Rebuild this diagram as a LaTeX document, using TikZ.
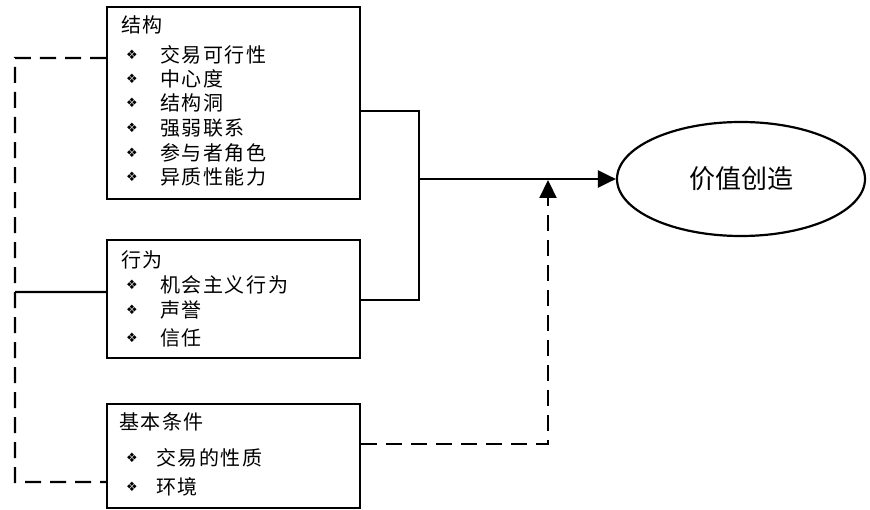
\documentclass[tikz,border=0pt]{standalone}
\usepackage{fontspec}
\newfontfamily\cjk[LetterSpace=8]{Noto Sans CJK SC}
\newfontfamily\cjkb{Noto Sans CJK SC}
\newfontfamily\symf{DejaVu Sans}
\usetikzlibrary{shapes.geometric,arrows.meta}
\begin{document}
\begin{tikzpicture}[x=1bp,y=-1bp,
  box/.style={draw, line width=2.2bp, minimum width=253bp, anchor=north west, inner sep=0pt},
  ttl/.style={anchor=west, inner sep=0pt, font=\cjk\fontsize{20bp}{22bp}\selectfont},
  itm/.style={anchor=west, inner sep=0pt, font=\cjk\fontsize{20bp}{22bp}\selectfont},
  bul/.style={inner sep=0pt, font=\symf\fontsize{13bp}{15bp}\selectfont},
  conn/.style={line width=2.2bp},
  dconn/.style={line width=2.2bp, dash pattern=on 16bp off 9bp},
  tip/.style={-{Triangle[length=18bp,width=17bp]}}
]
\useasboundingbox (0,0) rectangle (870,510);

% boxes
\node[box, minimum height=192bp] (b1) at (106,6) {};
\node[box, minimum height=118bp] (b2) at (106,239) {};
\node[box, minimum height=104bp] (b3) at (106,403) {};

% ellipse
\node[ellipse, draw, line width=2.2bp, minimum width=248bp, minimum height=114bp,
      font=\cjkb\fontsize{26bp}{30bp}\selectfont] (v) at (741,179) {价值创造};

% box 1 text
\node[ttl] (t1) at (121,25) {结构};
\foreach \y/\txt [count=\i] in {55/交易可行性,79/中心度,103/结构洞,128/强弱联系,153/参与者角色,177/异质性能力}{
  \node[bul] (b1b\i) at (132,\y) {❖};
  \node[itm] (b1t\i) at (160,\y) {\txt};
}

% box 2 text
\node[ttl] (t2) at (121,260) {行为};
\foreach \y/\txt [count=\i] in {285/机会主义行为,310/声誉,338/信任}{
  \node[bul] (b2b\i) at (132,\y) {❖};
  \node[itm] (b2t\i) at (160,\y) {\txt};
}

% box 3 text
\node[ttl] (t3) at (119,422) {基本条件};
\foreach \y/\txt [count=\i] in {458/交易的性质,487/环境}{
  \node[bul] (b3b\i) at (132,\y) {❖};
  \node[itm] (b3t\i) at (156,\y) {\txt};
}

% connector points
\coordinate (b1o) at ([yshift=-105bp]b1.north east);
\coordinate (b2o) at ([yshift=-61bp]b2.north east);
\coordinate (b3o) at ([yshift=-41bp]b3.north east);
\coordinate (bus) at (419,179);
\coordinate (m) at (548,180);
\coordinate (b1i) at ([yshift=-52bp]b1.north west);
\coordinate (b2i) at ([yshift=-53bp]b2.north west);
\coordinate (b3i) at ([yshift=-79bp]b3.north west);
\coordinate (lt) at (15,58);
\coordinate (lm) at (15,292);
\coordinate (lb) at (15,482);

% solid connectors
\draw[conn] (b1o) -| (bus);
\draw[conn] (b2o) -| (bus);
\draw[conn, tip] (bus) -- (v.west);

% dashed connectors
\draw[dconn, tip] (b3o) -| (m);
\draw[dconn] (b1i) -- (b1i -| lt) -- (lb) -- (b3i);
\draw[conn] (lm) -- (b2i);
\end{tikzpicture}
\end{document}
